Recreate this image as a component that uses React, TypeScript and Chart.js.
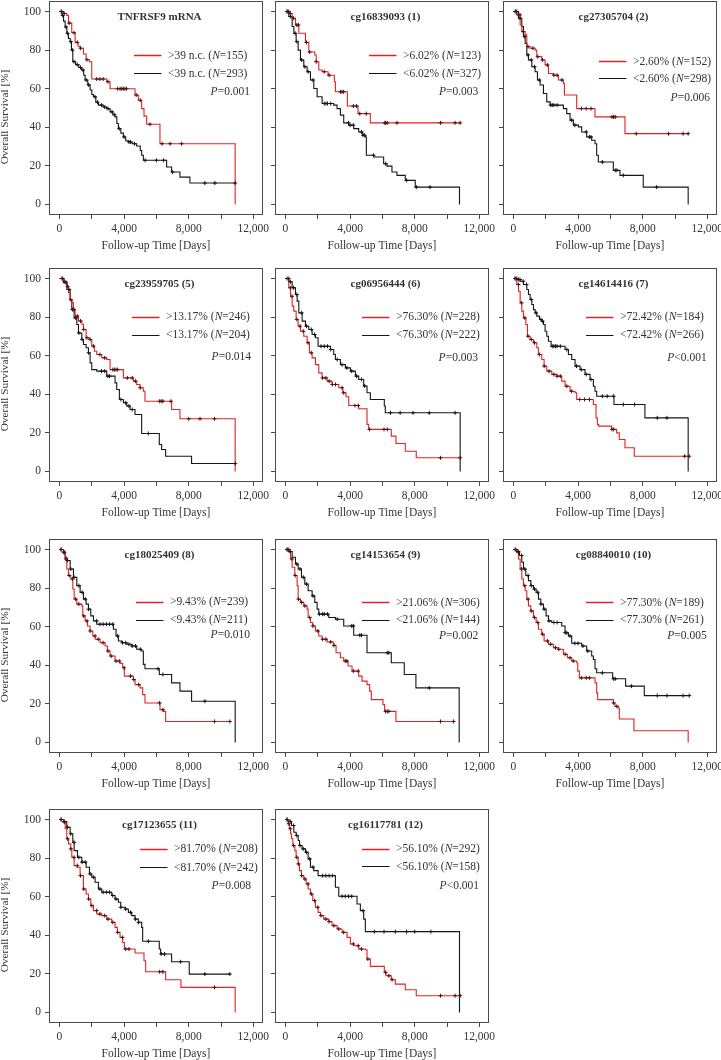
import React, { useEffect, useRef } from 'react';
import { Chart, registerables } from 'chart.js';
Chart.register(...registerables);

// ---------- DATA (time in days, survival in %) ----------
const tnfHigh = [[0,100],[250,99],[453,98],[556,94],[760,89],[968,84],[1150,82],[1277,81],[1483,78],[1648,75],[1854,74],[1998,65],[2925,63.6],[3131,60],[4676,56.7],[4882,54],[5088,49.7],[5232,45.8],[5397,41.6],[6221,31.5],[10877,0]];
const tnfHighCens = [150,300,600,900,1100,1300,1700,2300,2500,2700,3000,3600,3750,3850,3950,4050,4150,4750,5000,5600,6350,6850,7560];
const tnfLow = [[0,100],[150,98],[250,95],[350,92],[453,88.7],[550,86],[659,84.4],[740,80],[824,74],[1000,72.5],[1200,71],[1380,69.7],[1500,67],[1586,64.5],[1750,62],[1895,59.3],[2000,57],[2101,55.8],[2250,53],[2410,51.5],[2700,50.5],[2925,49.7],[3131,48],[3300,46.5],[3440,45.4],[3550,42],[3646,39.3],[3800,37],[3955,35],[4100,33],[4264,32.4],[4500,31.5],[4779,30.3],[5000,28],[5088,25.5],[5191,22.9],[6633,19.4],[6942,16.8],[7457,14.2],[8075,11.1],[10877,11.1]];
const tnfLowCens = [100,200,400,500,700,800,900,1100,1300,1450,1650,1800,2200,2350,2600,2800,3000,3250,3400,3700,4000,4300,4400,4650,5300,6000,6450,7000,9000,9620,10877];

const cg1High = [[0,100],[206,99],[412,96.5],[618,93],[824,88.7],[1236,84],[1442,79],[1813,77.5],[1900,74],[2060,69.7],[2266,68.8],[2637,67],[3028,63.6],[3090,58.4],[3832,51],[4491,47.1],[5253,42.3],[10815,42.3]];
const cg1HighCens = [100,300,500,700,800,1300,1500,1900,2400,2700,3400,3500,3600,4200,4400,4600,5000,6150,6200,6300,6900,9600,10500,10815];
const cg1Low = [[0,100],[206,97.4],[412,92.2],[515,88.7],[659,84.4],[783,80],[927,74.9],[1133,71.4],[1339,68.8],[1545,64.5],[1751,60.1],[1957,55.8],[2266,52.3],[2987,51.5],[3193,49.7],[3399,46.3],[3605,42.3],[3914,41.1],[4223,39.3],[4532,37.6],[4779,35.9],[4944,35],[5006,25.5],[5459,24.6],[6077,21.1],[6283,19.9],[6592,16.8],[6901,15.1],[7416,12.5],[8034,9],[10774,0]];
const cg1LowCens = [100,200,300,600,700,1000,1200,1400,1700,2400,2500,2600,2800,3900,4000,4200,4700,4800,4900,5450,6200,7500,8100,8950];

const cg2High = [[0,100],[206,98.3],[412,93],[515,89.6],[721,87.9],[824,81.8],[1030,81],[1339,80],[1442,76.6],[1751,74.9],[1957,72.3],[2163,67.9],[2472,67],[2781,64.5],[3090,62.7],[3152,56.7],[3914,49.7],[5047,45.4],[6901,36.7],[10815,36.7]];
const cg2HighCens = [150,300,400,600,900,1200,1500,1800,2100,2500,2700,3000,4200,4500,4800,6100,6200,6300,7600,9600,10500,10815];
const cg2Low = [[0,100],[309,96.5],[515,92.2],[618,87],[721,83.5],[824,77.5],[927,74.9],[1133,71.4],[1339,68.8],[1483,64.5],[1648,61.9],[1854,57.5],[2060,53.2],[2266,51.5],[3090,49.7],[3296,47.1],[3502,43.7],[3708,41.1],[4017,40.2],[4223,37.6],[4532,35],[4841,33.3],[5047,31.5],[5150,25.5],[5253,22],[6180,17.7],[6592,15.1],[8034,9],[10815,0]];
const cg2LowCens = [100,200,400,700,900,1100,1300,1600,2300,2400,2500,2700,3600,3800,4500,4700,4800,5500,6300,6400,6800,8860];

const cg5High = [[0,100],[247,98.6],[453,96],[556,92.6],[659,89],[762,87.4],[865,83.9],[968,80.5],[1174,78],[1380,76.3],[1483,73.6],[1648,69.3],[1854,68.4],[1998,65],[2163,62.3],[2307,60.6],[2616,58.9],[2925,58],[3131,52.8],[3955,48.5],[4573,46.8],[4779,45.1],[4985,43.4],[5191,41.6],[5294,36.4],[6942,32.1],[7457,27.3],[10877,0]];
const cg5HighCens = [150,300,500,700,900,1100,1300,1500,1700,1900,2100,2500,2800,3300,3400,3500,3600,4200,4500,4700,5000,6200,6300,6400,6900,8000,8700,9600];
const cg5Low = [[0,100],[247,97.8],[453,94.3],[659,89],[762,83.9],[906,79.6],[1071,76.2],[1174,71.8],[1380,68.4],[1483,65.8],[1648,64.1],[1792,61.5],[1895,56.3],[1998,52.8],[2307,52],[2925,49.4],[3440,45.9],[3543,42.5],[3708,37.3],[3955,35.6],[4161,33.9],[4367,32.1],[4676,29.5],[5088,19.7],[6180,14],[6324,11.4],[6571,7.9],[8178,4.1],[10877,4.1]];
const cg5LowCens = [200,400,600,800,1000,1200,1400,1800,2600,2800,3000,3100,3800,4100,4300,4500,5500,10877];

const cg6High = [[0,100],[206,95.2],[309,90.8],[412,85.7],[515,83.1],[659,78.8],[783,75.3],[927,72.7],[1133,70.1],[1339,66.7],[1483,61.5],[1648,58.9],[1854,55.4],[2060,51.1],[2266,48.5],[2575,46.8],[2884,45.1],[3296,43.4],[3543,40.8],[3749,38.7],[3914,34.2],[4532,32.5],[5047,24.4],[5150,21.8],[6551,18.3],[6839,14.5],[7416,10.5],[8096,7.1],[10815,7.1]];
const cg6HighCens = [200,300,400,700,900,1100,1400,1600,2300,2500,2700,2900,3100,3500,3600,4300,4500,5200,6100,6300,9600,10815];
const cg6Low = [[0,100],[206,98.3],[412,95.2],[618,91.7],[721,88.3],[824,82.2],[1030,77.9],[1236,75.3],[1442,73.6],[1648,71],[1854,69.3],[2019,64.9],[2781,63.2],[2987,60.6],[3090,58],[3399,55.4],[3708,53.7],[4017,52],[4326,49.4],[4532,47.7],[4841,44.3],[5047,40.8],[5253,37.3],[6118,33.9],[6180,30.4],[10815,0]];
const cg6LowCens = [100,300,500,700,1000,1300,1600,1800,2200,2400,2600,2800,3200,3500,3800,4100,4400,4700,4900,6500,7100,7900,8900,10500];

const cg7High = [[0,100],[206,96.9],[309,93.4],[412,87.4],[515,83.1],[618,79.6],[762,76.2],[865,70.1],[1030,68.4],[1236,66.7],[1442,64.1],[1545,60.6],[1751,58],[1895,54.6],[2060,52],[2369,50.3],[2678,49.4],[2987,46.8],[3193,44.2],[3502,41.6],[3811,40.8],[3914,37.3],[4944,34.7],[5109,27.8],[5191,24.4],[5274,23.5],[6077,21.8],[6386,20],[6551,16.6],[6901,12.3],[7478,7.9],[10877,7.9]];
const cg7HighCens = [100,200,300,500,700,900,1100,1300,1600,1900,2200,2500,2700,2900,3300,3600,4100,4400,4700,6100,6200,10600,10877];
const cg7Low = [[0,100],[206,99.5],[412,98.6],[618,96.9],[824,94.3],[927,91.7],[1030,89.1],[1133,86.5],[1236,83.9],[1339,82.2],[1442,80.5],[1607,78.8],[1751,77.9],[1854,76.2],[1957,72.7],[2060,70.1],[2163,67.5],[2328,64.9],[3193,63.2],[3399,60.6],[3605,58],[3811,54.6],[4120,52.8],[4429,50.3],[4738,47.7],[4944,44.2],[5047,41.6],[5150,39],[6221,34.7],[8137,27.8],[10815,0]];
const cg7LowCens = [100,300,400,600,800,1100,1400,1700,1800,2400,2500,2600,2700,2900,3300,3900,4200,4500,4800,5500,5800,6200,6800,7500,8900,9500];

const cg8High = [[0,100],[247,98.6],[350,95.1],[453,89.9],[556,86.5],[700,84.7],[824,79.5],[906,74.3],[1071,71.7],[1380,70.8],[1442,65.6],[1586,63],[1730,60.4],[1895,57.8],[2060,55.2],[2204,53.5],[2513,51.7],[2822,50],[2966,47.4],[3131,44.8],[3440,42.2],[3749,41],[3914,38.7],[4017,34.4],[4573,32.6],[4676,30],[4985,28.3],[5150,24.8],[5294,20.5],[6221,17],[6427,16.1],[6571,10.9],[10547,10.9]];
const cg8HighCens = [100,250,400,600,800,1000,1200,1500,1700,1900,2200,2400,2700,3000,3200,3500,3700,4000,4400,4600,4900,6200,6400,9600,10547];
const cg8Low = [[0,100],[247,98.6],[350,96],[453,94.3],[659,89.9],[865,85.6],[1071,81.3],[1277,77.8],[1483,74.3],[1648,71.7],[1792,69.1],[1936,65.6],[2101,63],[2307,61.3],[3337,58.7],[3502,55.2],[3646,52.6],[3852,51.7],[4161,50.9],[4470,50],[4779,48.3],[5088,47.4],[5191,40.5],[5294,38.2],[6180,35.2],[6942,30.9],[7457,26.6],[8178,21.4],[10877,0]];
const cg8LowCens = [100,300,500,700,900,1200,1400,1600,1800,2300,2500,2700,2900,3100,3300,3600,3900,4100,4300,4500,4700,5000,6100,6400,9000];

const cg9High = [[0,100],[206,98.6],[309,95.1],[412,90.8],[577,86.5],[721,81.3],[783,74.3],[927,72.6],[1133,70.8],[1339,69.1],[1401,64.8],[1545,62.2],[1689,60.4],[1854,57.8],[2060,55.2],[2266,53.5],[2575,52.1],[2987,50.3],[3131,46.5],[3399,43.9],[3605,42.2],[3873,39.6],[4120,37],[4532,34.4],[4738,31.8],[5047,30],[5212,26.6],[5315,22.2],[6036,19.6],[6139,16.1],[6839,10.9],[10403,10.9]];
const cg9HighCens = [100,200,400,600,800,1000,1200,1500,1700,2000,2300,2500,2800,3000,3700,3800,4200,4500,6200,6300,6400,9600,10403];
const cg9Low = [[0,100],[206,99],[412,96],[618,92.5],[783,89.9],[989,85.6],[1195,82.1],[1401,78.6],[1648,76],[1813,72.6],[1957,69.1],[2060,66.5],[2678,64.8],[3090,63.9],[3605,60.4],[4223,55.6],[5047,46.5],[6551,41.3],[7354,35.2],[8075,28.3],[10753,0]];
const cg9LowCens = [100,300,700,900,1100,1300,1700,2100,2300,2400,2600,3200,4100,4200,4600,4700,6300,6400,8900];

const cg10High = [[0,100],[206,98.6],[309,95.1],[412,89.9],[515,84.7],[618,81.3],[721,78.6],[824,74.3],[927,70.8],[1071,68.2],[1236,64.8],[1401,62.2],[1545,58.7],[1751,56.1],[1895,52.6],[2163,50.9],[2472,49.1],[2781,48.3],[3090,45.7],[3337,43.9],[3605,42.2],[3914,41.3],[3976,37],[4079,33.5],[5047,30.9],[5150,25.7],[5212,22.2],[6180,20.5],[6283,18.7],[6489,17.9],[6551,12.2],[7457,6.1],[10815,0]];
const cg10HighCens = [150,300,500,700,900,1100,1300,1500,1800,2100,2300,2600,2800,3200,3500,3700,4200,4500,4700,6200,6400];
const cg10Low = [[0,100],[206,99],[371,96.9],[515,93.4],[618,89.9],[762,86.5],[927,83.9],[1071,81.3],[1236,79.5],[1401,77.8],[1545,74.3],[1689,71.7],[1854,69.1],[2019,65.6],[2163,63],[2369,62.2],[2987,60.4],[3193,56.9],[3399,55.2],[3605,51.4],[4223,50],[4532,47.4],[4841,44.8],[4944,43],[5047,38.2],[5150,36.1],[6139,33],[6942,29.2],[8096,24.3],[10877,24.3]];
const cg10LowCens = [100,300,500,700,900,1100,1300,1500,1700,1900,2200,2500,2700,3200,3300,3500,3800,4000,4300,4600,5500,6200,6300,7300,8900,9500,10500,10877];

const cg11High = [[0,100],[247,98.6],[350,95.2],[453,90],[556,87.4],[700,84.8],[762,80.4],[906,76.1],[1112,75.3],[1277,70.9],[1483,64],[1648,61.4],[1792,58.8],[1936,55.4],[2101,52.8],[2307,51],[2616,50.2],[2925,48.4],[3234,46.7],[3440,44.1],[3584,41.5],[3749,38.9],[3914,36.3],[4017,32.9],[4676,30.8],[5232,26.8],[5335,21.1],[6571,17],[7519,13],[10877,0]];
const cg11HighCens = [100,300,500,700,900,1100,1300,1500,1800,2000,2300,2500,2800,3000,3300,3600,3900,4100,4300,6200,6400,9600];
const cg11Low = [[0,100],[247,99],[453,96],[659,92.6],[824,88.2],[906,83.9],[1112,80.4],[1380,77.9],[1648,75.3],[1854,71.8],[1998,70.1],[2204,67.5],[2410,64],[2616,62.3],[3234,60.6],[3440,58.8],[3646,57.1],[3790,54.5],[4058,53.6],[4264,51.9],[4470,50.2],[4676,48.4],[4882,46.7],[5088,44.1],[5150,36.9],[6180,32.9],[6262,30.3],[6942,26.3],[8034,19.9],[10547,19.9]];
const cg11LowCens = [100,300,500,700,900,1200,1400,1600,1900,2100,2500,2700,2900,3100,3300,3500,3800,4100,4400,4700,4900,5500,6300,6500,7500,9000,10547];

const cg12High = [[0,100],[165,97.8],[247,95.2],[309,92.6],[371,90],[453,86.5],[577,83.9],[659,80.4],[783,77],[865,73.5],[989,70.9],[1133,69.2],[1277,66.6],[1401,64],[1545,61.4],[1689,58],[1854,54.5],[2019,51.9],[2163,50.2],[2369,48.4],[2678,47.1],[2884,45],[3193,43.3],[3502,41.5],[3811,38.9],[4017,35.5],[4223,34.6],[4532,32.9],[4944,32.5],[5047,27.7],[5253,23.9],[6118,20.8],[6221,19],[6551,17],[6798,14.7],[7416,11.8],[8096,8.7],[10815,8.7]];
const cg12HighCens = [100,200,300,500,700,800,1000,1200,1400,1600,1800,2000,2200,2500,2700,3000,3300,3600,4200,4500,4700,5100,6200,6400,6600,9600,10500,10815];
const cg12Low = [[0,100],[206,99],[371,96.9],[515,93.4],[659,91.7],[783,89.1],[865,86.5],[1030,84.8],[1236,83],[1401,79.6],[1545,75.3],[1751,73.5],[2019,70.9],[3090,64.9],[3296,60.2],[4429,56.2],[4635,52.8],[4841,48.4],[4944,41.9],[10774,0]];
const cg12LowCens = [100,300,500,700,900,1100,1300,1500,1700,2300,2500,2700,2900,3500,3700,3900,4100,4800,5500,6100,6800,7500,8000,9000];

const panelTitles = ['TNFRSF9 mRNA','cg16839093 (1)','cg27305704 (2)','cg23959705 (5)','cg06956444 (6)','cg14614416 (7)','cg18025409 (8)','cg14153654 (9)','cg08840010 (10)','cg17123655 (11)','cg16117781 (12)'];
const highLabels = ['>39 n.c.','>6.02%','>2.60%','>13.17%','>76.30%','>72.42%','>9.43%','>21.06%','>77.30%','>81.70%','>56.10%'];
const lowLabels = ['<39 n.c.','<6.02%','<2.60%','<13.17%','<76.30%','<72.42%','<9.43%','<21.06%','<77.30%','<81.70%','<56.10%'];
const highN = [155,123,152,246,228,184,239,306,189,208,292];
const lowN = [293,327,298,204,222,266,211,144,261,242,158];
const pValues = ['=0.001','=0.003','=0.006','=0.014','=0.003','<0.001','=0.010','=0.002','=0.005','=0.008','<0.001'];
const highCurves = [tnfHigh,cg1High,cg2High,cg5High,cg6High,cg7High,cg8High,cg9High,cg10High,cg11High,cg12High];
const lowCurves = [tnfLow,cg1Low,cg2Low,cg5Low,cg6Low,cg7Low,cg8Low,cg9Low,cg10Low,cg11Low,cg12Low];
const highCens = [tnfHighCens,cg1HighCens,cg2HighCens,cg5HighCens,cg6HighCens,cg7HighCens,cg8HighCens,cg9HighCens,cg10HighCens,cg11HighCens,cg12HighCens];
const lowCens = [tnfLowCens,cg1LowCens,cg2LowCens,cg5LowCens,cg6LowCens,cg7LowCens,cg8LowCens,cg9LowCens,cg10LowCens,cg11LowCens,cg12LowCens];

const xTickValues = [0,2000,4000,6000,8000,10000,12000];
const xTickLabeled = [0,4000,8000,12000];
const yTickValues = [0,20,40,60,80,100];

// ---------- LAYOUT / STYLE ----------
const COL_LEFT = [49, 275, 503];
const ROW_TOP = [1, 268, 539, 809];
const BOX_W = 214;
const BOX_H = 214;
const YAXIS_W = [49, 8, 8];
const X_AXIS_H = 38;
const PAD_TOP = 12;
const PAD_RIGHT = 12;
const X_MIN = -650, X_MAX = 12600;
const Y_MIN = -5.45, Y_MAX = 105.45;
// legend placement (relative to box): text x, [red y, black y, P y], P right inset
const LEG_X = [119, 128, 130, 117, 121, 117, 121, 121, 117, 125, 121];
const LEG_Y = [[54,72,90],[54,72,90.5],[60,77,96.5],[48.5,66.7,88.5],[48.5,66.7,89],[48.5,66.7,89],[62.5,80.7,95.7],[63.4,80.7,96.7],[63.4,80.7,96.7],[39.7,58,76.7],[39.7,57.3,76.7]];
const P_RIGHT = [13, 10.7, 7, 12, 11, 10.3, 13, 10.7, 10.3, 12, 10];

const RED = 'rgb(228,34,34)';
const RED_MARK = 'rgb(70,20,20)';
const BLACK = 'rgb(22,22,22)';
const AXIS = '#4a4a4a';
const TEXT = '#333333';
const SERIF = "'Liberation Serif', 'Times New Roman', Times, serif";

function stepAt(curve: number[][], t: number) {
  let v = curve[0][1];
  for (const [tt, s] of curve) {
    if (tt <= t) v = s; else break;
  }
  return v;
}

function drawRich(ctx: CanvasRenderingContext2D, x: number, y: number, parts: [string, boolean][], size: number) {
  let cx = x;
  for (const [txt, ital] of parts) {
    ctx.font = `${ital ? 'italic ' : ''}${size}px ${SERIF}`;
    ctx.fillText(txt, cx, y);
    cx += ctx.measureText(txt).width;
  }
}
function richWidth(ctx: CanvasRenderingContext2D, parts: [string, boolean][], size: number) {
  let w = 0;
  for (const [txt, ital] of parts) {
    ctx.font = `${ital ? 'italic ' : ''}${size}px ${SERIF}`;
    w += ctx.measureText(txt).width;
  }
  return w;
}

function Panel({ i }: { i: number }) {
  const ref = useRef<HTMLCanvasElement>(null);
  const col = i % 3;
  const row = Math.floor(i / 3);
  const yw = YAXIS_W[col];
  const left = COL_LEFT[col] - yw;
  const top = ROW_TOP[row] - PAD_TOP;
  const w = yw + BOX_W + PAD_RIGHT;
  const h = PAD_TOP + BOX_H + X_AXIS_H;

  useEffect(() => {
    const canvas = ref.current;
    if (!canvas) return;
    const decor = {
      id: 'decor' + i,
      afterDraw(chart: any) {
        const ctx = chart.ctx as CanvasRenderingContext2D;
        const ca = chart.chartArea;
        ctx.save();
        // box
        ctx.strokeStyle = AXIS;
        ctx.lineWidth = 1;
        ctx.strokeRect(Math.round(ca.left) + 0.5, Math.round(ca.top) + 0.5, Math.round(ca.right - ca.left) - 1, Math.round(ca.bottom - ca.top) - 1);
        ctx.fillStyle = TEXT;
        ctx.textBaseline = 'middle';
        // title
        ctx.font = `bold 11px ${SERIF}`;
        ctx.textAlign = 'center';
        ctx.fillText(panelTitles[i], ca.left + BOX_W / 2 + 3.5, ca.top + 16);
        // legend
        ctx.textAlign = 'left';
        const tx = ca.left + LEG_X[i];
        const [yr, yb, yp] = LEG_Y[i];
        ctx.strokeStyle = RED;
        ctx.lineWidth = 1.5;
        ctx.beginPath();
        ctx.moveTo(tx - 34, Math.round(ca.top + yr) + 0.5);
        ctx.lineTo(tx - 6.5, Math.round(ca.top + yr) + 0.5);
        ctx.stroke();
        ctx.strokeStyle = BLACK;
        ctx.lineWidth = 1;
        ctx.beginPath();
        ctx.moveTo(tx - 34, Math.round(ca.top + yb) + 0.5);
        ctx.lineTo(tx - 6.5, Math.round(ca.top + yb) + 0.5);
        ctx.stroke();
        ctx.fillStyle = TEXT;
        drawRich(ctx, tx, ca.top + yr + 0.5, [[highLabels[i] + ' (', false], ['N', true], ['=' + highN[i] + ')', false]], 11.5);
        drawRich(ctx, tx, ca.top + yb + 0.5, [[lowLabels[i] + ' (', false], ['N', true], ['=' + lowN[i] + ')', false]], 11.5);
        const pParts: [string, boolean][] = [['P', true], [pValues[i], false]];
        const pw = richWidth(ctx, pParts, 11.5);
        drawRich(ctx, ca.right - P_RIGHT[i] - pw, ca.top + yp + 0.5, pParts, 11.5);
        // y-axis title (first column only)
        if (col === 0) {
          ctx.save();
          ctx.translate(ca.left - 43.5, ca.top + BOX_H / 2 + 9);
          ctx.rotate(-Math.PI / 2);
          ctx.textAlign = 'center';
          ctx.font = `11.3px ${SERIF}`;
          ctx.fillText('Overall Survival [%]', 0, 0);
          ctx.restore();
        }
        ctx.restore();
      },
    };

    const hi = highCurves[i], lo = lowCurves[i];
    const chart = new Chart(canvas, {
      type: 'line',
      data: {
        datasets: [
          {
            data: highCens[i].map((t) => ({ x: t, y: stepAt(hi, t) })),
            showLine: false, pointStyle: 'cross', pointRadius: 2, pointBorderWidth: 1,
            pointBorderColor: RED_MARK, borderColor: RED_MARK, backgroundColor: RED_MARK,
          },
          {
            data: lowCens[i].map((t) => ({ x: t, y: stepAt(lo, t) })),
            showLine: false, pointStyle: 'cross', pointRadius: 2, pointBorderWidth: 1,
            pointBorderColor: BLACK, borderColor: BLACK, backgroundColor: BLACK,
          },
          {
            data: hi.map(([x, y]) => ({ x, y })),
            stepped: 'before', borderColor: RED, borderWidth: 1.1, pointRadius: 0, fill: false,
          },
          {
            data: lo.map(([x, y]) => ({ x, y })),
            stepped: 'before', borderColor: BLACK, borderWidth: 1.1, pointRadius: 0, fill: false,
          },
        ] as any,
      },
      options: {
        responsive: false,
        animation: false,
        events: [],
        layout: { padding: { top: PAD_TOP, right: PAD_RIGHT, left: 0, bottom: 0 } },
        plugins: { legend: { display: false }, tooltip: { enabled: false } },
        scales: {
          x: {
            type: 'linear',
            min: X_MIN,
            max: X_MAX,
            afterBuildTicks: (s: any) => { s.ticks = xTickValues.map((v) => ({ value: v })); },
            afterFit: (s: any) => { s.height = X_AXIS_H; },
            ticks: {
              autoSkip: false, maxRotation: 0, padding: 3, color: TEXT,
              font: { family: SERIF, size: 11.5 },
              callback: (v: any) => (xTickLabeled.includes(Number(v)) ? Number(v).toLocaleString('en-US') : ''),
            },
            grid: { drawOnChartArea: false, drawTicks: true, tickLength: 4, color: AXIS, tickColor: AXIS },
            border: { display: false },
            title: {
              display: true, text: 'Follow-up Time [Days]', color: TEXT,
              font: { family: SERIF, size: 11.5 }, padding: { top: 0, bottom: 0.5 },
            },
          },
          y: {
            type: 'linear',
            min: Y_MIN,
            max: Y_MAX,
            afterBuildTicks: (s: any) => { s.ticks = yTickValues.map((v) => ({ value: v })); },
            afterFit: (s: any) => { s.width = yw; },
            ticks: {
              padding: 4, color: TEXT, font: { family: SERIF, size: 11.5 },
              callback: (v: any) => (col === 0 ? String(v) : ''),
            },
            grid: { drawOnChartArea: false, drawTicks: true, tickLength: 4, color: AXIS, tickColor: AXIS },
            border: { display: false },
          },
        },
      } as any,
      plugins: [decor],
    });
    return () => chart.destroy();
  }, []);

  return (
    <canvas
      ref={ref}
      width={w}
      height={h}
      style={{ position: 'absolute', left, top, width: w, height: h }}
    />
  );
}

export default function App() {
  return (
    <div style={{ position: 'absolute', left: 0, top: 0, width: 721, height: 1060, overflow: 'hidden', background: '#fff' }}>
      {panelTitles.map((_, i) => (
        <Panel key={i} i={i} />
      ))}
    </div>
  );
}
